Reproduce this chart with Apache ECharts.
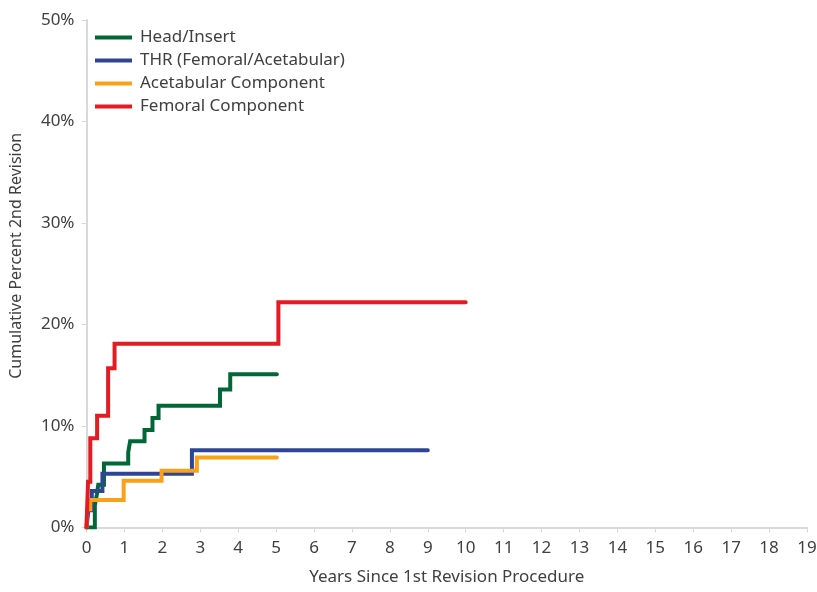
<!DOCTYPE html>
<html>
<head>
<meta charset="utf-8">
<script src="https://cdn.jsdelivr.net/npm/echarts@6/dist/echarts.min.js"></script>
<style>html,body{margin:0;padding:0;background:#fff;}#c{width:817px;height:592px;}</style>
</head>
<body>
<div id="c"></div>
<script>
// Years since 1st revision (step times) and cumulative percent
var headT = [0, 0.22, 0.27, 0.31, 0.46, 1.10, 1.15, 1.53, 1.74, 1.90, 3.52, 3.79, 5.02];
var headV = [0, 2.2, 3.2, 4.2, 6.3, 7.4, 8.5, 9.6, 10.8, 12.0, 13.6, 15.1, 15.1];

var thrT = [0, 0.05, 0.14, 0.42, 2.78, 9.0];
var thrV = [0, 1.7, 3.6, 5.3, 7.6, 7.6];

var acetT = [0, 0.02, 0.10, 0.98, 1.98, 2.91, 5.02];
var acetV = [0, 1.8, 2.7, 4.6, 5.6, 6.9, 6.9];

var femT = [0, 0.04, 0.10, 0.28, 0.57, 0.74, 5.06, 10.0];
var femV = [0, 4.5, 8.8, 11.0, 15.7, 18.1, 22.2, 22.2];

var seriesNames = ['Head/Insert', 'THR (Femoral/Acetabular)', 'Acetabular Component', 'Femoral Component'];
var colors = ['#006837', '#2e4596', '#f9a11b', '#e31b23'];

function pairs(t, v) { return t.map(function (x, i) { return [x, v[i]]; }); }
var allData = [pairs(headT, headV), pairs(thrT, thrV), pairs(acetT, acetV), pairs(femT, femV)];

var font = 'Noto Sans';
var textColor = '#404040';
var axisCol = '#d9d9d9';
var fs = 17;

var chart = echarts.init(document.getElementById('c'), null, {renderer: 'canvas'});
chart.setOption({
  animation: false,
  color: colors,
  textStyle: {fontFamily: font},
  grid: {left: 86.5, right: 10, top: 20, bottom: 64.5, containLabel: false, outerBoundsMode: 'none'},
  legend: {
    orient: 'vertical', left: 90, top: 24,
    icon: 'rect', itemWidth: 37, itemHeight: 4, itemGap: 6,
    textStyle: {fontFamily: font, fontSize: fs, color: textColor, padding: [0, 0, 0, 3]},
    data: seriesNames
  },
  xAxis: {
    type: 'value', min: 0, max: 19, interval: 1,
    name: 'Years Since 1st Revision Procedure', nameLocation: 'middle', nameGap: 41,
    nameTextStyle: {fontFamily: font, fontSize: fs, color: textColor},
    axisLine: {show: true, lineStyle: {color: axisCol, width: 2}},
    axisTick: {show: true, length: 5, lineStyle: {color: axisCol, width: 1}},
    axisLabel: {fontFamily: font, fontSize: fs, color: textColor, margin: 12},
    splitLine: {show: false}
  },
  yAxis: {
    type: 'value', min: 0, max: 50, interval: 10,
    name: 'Cumulative Percent 2nd Revision', nameLocation: 'middle', nameGap: 62,
    nameTextStyle: {fontFamily: font, fontSize: 16, color: textColor, padding: [0, 0, 0, 36]},
    axisLine: {show: true, lineStyle: {color: axisCol, width: 2}},
    axisTick: {show: true, length: 5, lineStyle: {color: axisCol, width: 1}},
    axisLabel: {fontFamily: font, fontSize: fs, color: textColor, margin: 12, formatter: '{value}%'},
    splitLine: {show: false}
  },
  series: seriesNames.map(function (n, i) {
    return {
      name: n, type: 'line', step: 'end', showSymbol: false, symbol: 'none',
      data: allData[i],
      lineStyle: {width: 4, color: colors[i], cap: 'round', join: 'miter'},
      itemStyle: {color: colors[i]}
    };
  })
});
</script>
</body>
</html>
